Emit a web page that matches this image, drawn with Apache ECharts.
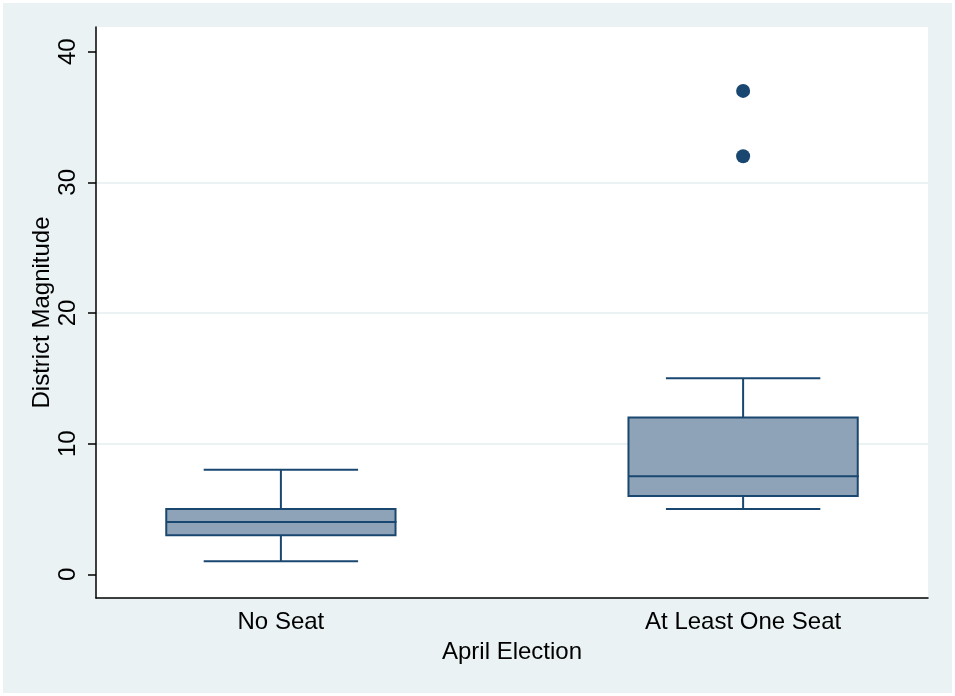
<!DOCTYPE html>
<html>
<head>
<meta charset="utf-8">
<script src="https://cdn.jsdelivr.net/npm/echarts@6/dist/echarts.min.js"></script>
<style>
  html, body { margin: 0; padding: 0; background: #ffffff; }
  #chart { position: absolute; left: 3px; top: 3px; width: 949px; height: 690px; }
</style>
</head>
<body>
<div id="chart"></div>
<script>
// ---- data ----
const categories = ['No Seat', 'At Least One Seat'];
const lows    = [1, 5];
const q1s     = [3, 6];
const medians = [4, 7.5];
const q3s     = [5, 12];
const highs   = [8, 15];
const outliers = [[2, 32], [2, 37]]; // [category index (1-based), value]
const yTicks = [0, 10, 20, 30, 40];
const xTicks = [1, 2];

const boxData = categories.map((c, i) => [i + 1, lows[i], q1s[i], medians[i], q3s[i], highs[i]]);

const navy = '#1A476F';
const fill = '#8EA3B8';
const FONT = '"Liberation Sans", Arial, sans-serif';

const chart = echarts.init(document.getElementById('chart'), null, { renderer: 'canvas' });

function renderBox(params, api) {
  const x = api.value(0);
  const low = api.value(1), q1 = api.value(2), med = api.value(3), q3 = api.value(4), high = api.value(5);
  const hb = 0.248, hc = 0.167;
  const pL = api.coord([x - hb, q3]);
  const pR = api.coord([x + hb, q1]);
  const c = api.coord([x, 0]);
  const yLow = api.coord([x, low])[1], yQ1 = api.coord([x, q1])[1], yMed = api.coord([x, med])[1];
  const yQ3 = api.coord([x, q3])[1], yHigh = api.coord([x, high])[1];
  const capL = api.coord([x - hc, low])[0], capR = api.coord([x + hc, low])[0];
  const st = { stroke: navy, lineWidth: 2, fill: null };
  return {
    type: 'group',
    children: [
      { type: 'line', shape: { x1: c[0], y1: yQ3, x2: c[0], y2: yHigh }, style: st },
      { type: 'line', shape: { x1: c[0], y1: yQ1, x2: c[0], y2: yLow }, style: st },
      { type: 'line', shape: { x1: capL, y1: yHigh, x2: capR, y2: yHigh }, style: st },
      { type: 'line', shape: { x1: capL, y1: yLow, x2: capR, y2: yLow }, style: st },
      { type: 'rect', shape: { x: pL[0], y: pL[1], width: pR[0] - pL[0], height: pR[1] - pL[1] },
        style: { fill: fill, stroke: navy, lineWidth: 2 } },
      { type: 'line', shape: { x1: pL[0], y1: yMed, x2: pR[0] + 1, y2: yMed }, style: st }
    ]
  };
}

const option = {
  backgroundColor: '#EAF2F3',
  animation: false,
  grid: {
    left: 93, top: 24, right: 24, bottom: 95,
    show: true, backgroundColor: '#ffffff', borderWidth: 0
  },
  xAxis: {
    type: 'value',
    min: 0.6, max: 2.4,
    name: 'April Election',
    nameLocation: 'middle',
    nameGap: 42,
    nameTextStyle: { fontFamily: FONT, fontSize: 24, color: '#000' },
    axisLine: { show: true, onZero: false, lineStyle: { color: '#000', width: 1.5 } },
    axisTick: { show: false },
    splitLine: { show: false },
    axisLabel: {
      customValues: xTicks,
      margin: 12,
      fontFamily: FONT, fontSize: 24, color: '#000',
      formatter: v => categories[Math.round(v) - 1] || ''
    }
  },
  yAxis: {
    type: 'value',
    min: -1.81, max: 41.89,
    name: 'District Magnitude',
    nameLocation: 'middle',
    nameGap: 42,
    nameMoveOverlap: false,
    nameRotate: 90,
    nameTextStyle: { fontFamily: FONT, fontSize: 24, color: '#000' },
    axisLine: { show: true, onZero: false, lineStyle: { color: '#000', width: 1.5 } },
    axisTick: { show: true, customValues: yTicks, length: 8, lineStyle: { color: '#000', width: 1.5 } },
    axisLabel: {
      customValues: yTicks,
      rotate: 90,
      margin: 16,
      fontFamily: FONT, fontSize: 24, color: '#000'
    },
    splitLine: { show: true, showMinLine: false, showMaxLine: false, lineStyle: { color: '#EAF2F3', width: 2 } }
  },
  series: [
    {
      type: 'custom',
      renderItem: renderBox,
      encode: { x: 0, y: [1, 2, 3, 4, 5] },
      data: boxData,
      z: 3
    },
    {
      type: 'scatter',
      data: outliers,
      symbol: 'circle',
      symbolSize: 14,
      itemStyle: { color: navy, opacity: 1 },
      z: 4
    }
  ]
};
chart.setOption(option);
</script>
</body>
</html>
